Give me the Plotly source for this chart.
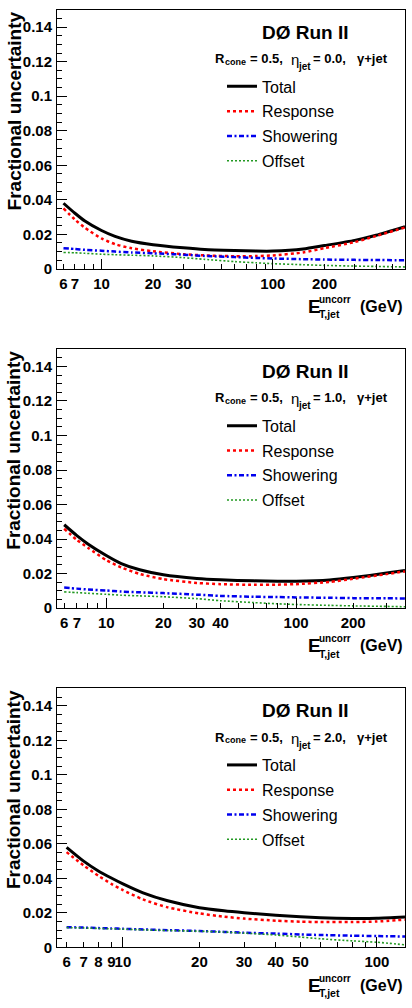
import math
import plotly.graph_objects as go

W, H = 412, 1008

# ---------------- data ----------------
# Panel 1: R_cone = 0.5, eta_jet = 0.0
et_1 = [6, 7, 8, 10, 12, 15, 20, 30, 40, 60, 80, 100, 150, 200, 300, 400, 590]
total_1 = [0.038, 0.0322, 0.0277, 0.0222, 0.0188, 0.0160, 0.0140, 0.0122, 0.0112, 0.0106, 0.0103, 0.0103, 0.0115, 0.0135, 0.0165, 0.0195, 0.0245]
response_1 = [0.035, 0.0285, 0.0238, 0.0176, 0.0143, 0.0119, 0.0102, 0.0085, 0.0078, 0.0073, 0.0074, 0.0078, 0.0095, 0.012, 0.0155, 0.019, 0.0240]
shower_1 = [0.012, 0.0115, 0.011, 0.0105, 0.0100, 0.0095, 0.009, 0.0082, 0.0075, 0.0068, 0.0063, 0.006, 0.0056, 0.0054, 0.0052, 0.0051, 0.005]
offset_1 = [0.0095, 0.0093, 0.009, 0.0085, 0.0082, 0.0079, 0.0075, 0.0065, 0.0055, 0.0042, 0.0035, 0.003, 0.0024, 0.002, 0.0016, 0.0014, 0.0011]

# Panel 2: eta_jet = 1.0
et_2 = [6, 7, 8, 10, 12, 15, 20, 30, 40, 60, 80, 100, 150, 200, 300, 375]
total_2 = [0.0483, 0.042, 0.0372, 0.0305, 0.0258, 0.0222, 0.0193, 0.0172, 0.0164, 0.0158, 0.0156, 0.0156, 0.0163, 0.0177, 0.0203, 0.0218]
response_2 = [0.046, 0.0395, 0.035, 0.0278, 0.0236, 0.0198, 0.0168, 0.0146, 0.0139, 0.0135, 0.0136, 0.0139, 0.0152, 0.017, 0.0197, 0.0213]
shower_2 = [0.0119, 0.0113, 0.0108, 0.0102, 0.0096, 0.0092, 0.0087, 0.0078, 0.0071, 0.0066, 0.0064, 0.0062, 0.006, 0.0058, 0.0057, 0.0056]
offset_2 = [0.0094, 0.009, 0.0086, 0.008, 0.0075, 0.0071, 0.0066, 0.0055, 0.0043, 0.0032, 0.0025, 0.0021, 0.0016, 0.0013, 0.001, 0.0008]

# Panel 3: eta_jet = 2.0
et_3 = [6, 7, 8, 9, 10, 12, 15, 20, 25, 30, 40, 50, 60, 80, 100, 129]
total_3 = [0.058, 0.050, 0.0443, 0.0402, 0.0368, 0.0316, 0.0270, 0.0230, 0.0212, 0.0201, 0.0186, 0.0177, 0.0172, 0.0168, 0.0169, 0.0176]
response_3 = [0.0552, 0.0475, 0.0415, 0.0368, 0.0332, 0.0278, 0.0232, 0.0197, 0.0178, 0.0167, 0.0155, 0.0149, 0.0147, 0.0147, 0.015, 0.0161]
shower_3 = [0.0117, 0.0115, 0.0112, 0.011, 0.0108, 0.0104, 0.0100, 0.0095, 0.009, 0.0085, 0.008, 0.0075, 0.0072, 0.0068, 0.0066, 0.0063]
offset_3 = [0.0115, 0.0113, 0.011, 0.0108, 0.0106, 0.0102, 0.0098, 0.0094, 0.0089, 0.0083, 0.0072, 0.006, 0.005, 0.0038, 0.003, 0.0015]

eta_labels = ["0.0", "1.0", "2.0"]
x_max = [590, 375, 129]
x_min = 5.5

labeled_ticks_1 = [6, 7, 10, 20, 30, 100, 200]
other_ticks_1 = [8, 9, 40, 50, 60, 70, 80, 90, 300, 400, 500]
labeled_ticks_2 = [6, 7, 10, 20, 30, 40, 100, 200]
other_ticks_2 = [8, 9, 50, 60, 70, 80, 90, 300]
labeled_ticks_3 = [6, 7, 8, 9, 10, 20, 30, 40, 50, 100]
other_ticks_3 = [60, 70, 80, 90]
decade_ticks = [10, 100]

series_names = ["Total", "Response", "Showering", "Offset"]
series_styles = [
    dict(color="black", width=3, dash="solid"),
    dict(color="#ff0000", width=2.5, dash="dot"),
    dict(color="#0000ee", width=2.5, dash="5px,2.5px,2px,2.5px"),
    dict(color="#229922", width=1.6, dash="2px,2px"),
]

panels = [
    (et_1, [total_1, response_1, shower_1, offset_1], labeled_ticks_1, other_ticks_1),
    (et_2, [total_2, response_2, shower_2, offset_2], labeled_ticks_2, other_ticks_2),
    (et_3, [total_3, response_3, shower_3, offset_3], labeled_ticks_3, other_ticks_3),
]

# ---------------- layout geometry (pixels) ----------------
X0, X1 = 57, 405
tops = [10, 352, 694]
PH = 261


def px(x):
    return x / W


def py(y):
    return 1 - y / H


FONT = "Liberation Sans, Arial, Helvetica, sans-serif"


def label(text, x, y, size, bold=True, xanchor="left", angle=0, yanchor="middle"):
    f = dict(family=FONT, size=size, color="black")
    if bold:
        f["weight"] = "bold"
    return dict(text=text, xref="paper", yref="paper", x=px(x), y=py(y),
                xanchor=xanchor, yanchor=yanchor, textangle=angle,
                showarrow=False, font=f)


fig = go.Figure()
layout = dict(
    width=W, height=H,
    margin=dict(l=0, r=0, t=0, b=0),
    paper_bgcolor="white", plot_bgcolor="white",
    showlegend=True,
    annotations=[],
)

for i, (et, ys, lab_ticks, oth_ticks) in enumerate(panels):
    n = i + 1
    xa = "x" if n == 1 else f"x{n}"
    ya = "y" if n == 1 else f"y{n}"
    leg = "legend" if n == 1 else f"legend{n}"
    for name, y, st in zip(series_names, ys, series_styles):
        fig.add_trace(go.Scatter(
            x=et, y=y, mode="lines", name=name, xaxis=xa, yaxis=ya,
            line=dict(color=st["color"], width=st["width"], dash=st["dash"], shape="spline", smoothing=0.6),
            legend=leg, legendgroup=f"{name}{n}", hoverinfo="skip",
        ))
    # empty helper trace for the overlay axis carrying the long decade ticks
    fig.add_trace(go.Scatter(x=[], y=[], xaxis=f"x{n + 3}", yaxis=ya, showlegend=False, hoverinfo="skip"))

    t = tops[i]
    b = t + PH
    dom_y = [py(b), py(t)]
    xr = [math.log10(x_min), math.log10(x_max[i])]
    layout["xaxis" if n == 1 else f"xaxis{n}"] = dict(
        domain=[px(X0), px(X1)], anchor=ya, type="log", range=xr,
        tickmode="array", tickvals=lab_ticks, ticktext=[str(v) for v in lab_ticks],
        ticks="inside", ticklen=5, tickwidth=1, tickcolor="black", tickangle=0,
        minor=dict(tickmode="array", tickvals=oth_ticks, ticks="inside", ticklen=5,
                   tickwidth=1, tickcolor="black", showgrid=False),
        showline=True, mirror=True, linecolor="black", linewidth=1,
        showgrid=False, zeroline=False,
        tickfont=dict(family=FONT, size=15, color="black", weight="bold"),
        ticklabelstandoff=1,
    )
    layout[f"xaxis{n + 3}"] = dict(
        overlaying=xa, anchor=ya, type="log", range=xr,
        tickmode="array", tickvals=decade_ticks, showticklabels=False,
        ticks="inside", ticklen=10, tickwidth=1, tickcolor="black",
        showline=False, showgrid=False, zeroline=False,
    )
    layout["yaxis" if n == 1 else f"yaxis{n}"] = dict(
        domain=dom_y, anchor=xa, range=[0, 0.15],
        tickmode="linear", tick0=0, dtick=0.02,
        ticks="inside", ticklen=10, tickwidth=1, tickcolor="black",
        minor=dict(ticks="inside", ticklen=5, tick0=0, dtick=0.005, tickcolor="black", showgrid=False),
        showline=True, mirror=True, linecolor="black", linewidth=1,
        showgrid=False, zeroline=False,
        tickfont=dict(family=FONT, size=15, color="black", weight="bold"),
        ticklabelstandoff=1,
    )
    layout[leg] = dict(
        x=px(222), y=py(t + 60), xanchor="left", yanchor="top",
        bgcolor="rgba(0,0,0,0)", borderwidth=0,
        font=dict(family=FONT, size=16, color="black"),
        traceorder="grouped", tracegroupgap=1,
    )

    ann = layout["annotations"]
    ann.append(label("Fractional uncertainty", 14, t, 19, xanchor="center", angle=-90, yanchor="top"))
    ann.append(label("DØ Run II", 305, t + 22.5, 19, xanchor="center"))
    # info line: R_cone = 0.5,  eta_jet = x.x,  gamma+jet
    ann.append(label("R", 213, t + 49, 13))
    ann.append(label("cone", 222.5, t + 52, 9))
    ann.append(label("= 0.5,", 248, t + 49, 13))
    ann.append(label("η", 289, t + 50, 15, bold=False))
    ann.append(label("jet", 296, t + 57, 10))
    ann.append(label(f"= {eta_labels[i]},", 311, t + 49, 13))
    ann.append(label("γ+jet", 355, t + 49, 13))
    # x-axis title: E^uncorr_T,jet  (GeV)
    ann.append(label("E", 306, b + 38, 19))
    ann.append(label("uncorr", 317, b + 31, 10))
    ann.append(label("T,jet", 317, b + 46, 10.5))
    ann.append(label("(GeV)", 405, b + 38, 16, xanchor="right"))

fig.update_layout(**layout)
fig.write_html("out.html")
